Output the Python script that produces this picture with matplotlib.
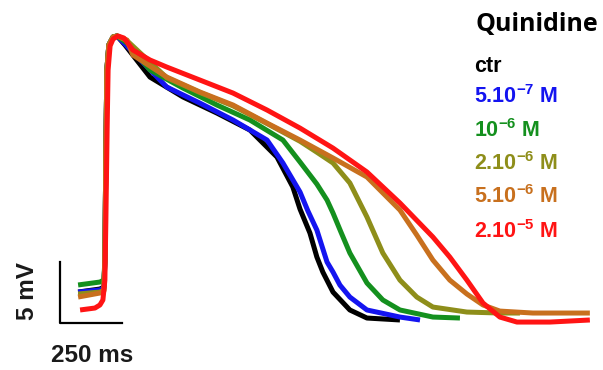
import matplotlib.pyplot as plt

# traces: time in ms, voltage in mV
labels = ['ctr', r'5.10$^{-7}$ M', r'10$^{-6}$ M', r'2.10$^{-6}$ M', r'5.10$^{-6}$ M', r'2.10$^{-5}$ M']
colors = ['#000000', '#1414f0', '#14901e', '#8e8e1a', '#c8701e', '#ff1414']

t_ctr = [73, 161, 177, 181, 185, 189, 197, 214, 230, 262, 363, 496, 633, 766, 875, 939, 968,
         1008, 1036, 1060, 1101, 1169, 1238, 1371]
v_ctr = [2.54, 2.79, 2.95, 5.17, 14.19, 20.75, 22.80, 23.45, 23.53, 22.79, 20.16, 18.53, 17.21,
         15.82, 13.61, 11.15, 9.34, 7.38, 5.41, 4.18, 2.54, 1.07, 0.41, 0.25]

t_q1 = [73, 161, 177, 181, 185, 189, 197, 214, 230, 262, 431, 564, 698, 835, 899, 968, 1000,
        1036, 1077, 1101, 1129, 1169, 1238, 1371, 1452]
v_q1 = [2.54, 2.71, 2.87, 5.17, 14.19, 20.75, 22.80, 23.45, 23.53, 22.87, 19.34, 18.03, 16.64,
        15.00, 13.12, 10.74, 9.18, 7.62, 5.00, 4.18, 3.11, 2.13, 1.07, 0.49, 0.25]

t_q2 = [73, 161, 177, 181, 185, 189, 197, 214, 230, 270, 363, 496, 633, 766, 899, 968, 1036,
        1077, 1101, 1133, 1169, 1238, 1302, 1371, 1504, 1613]
v_q2 = [3.12, 3.36, 3.53, 5.17, 14.19, 20.75, 22.80, 23.45, 23.53, 22.95, 20.74, 19.26, 17.87,
        16.64, 15.00, 13.20, 11.39, 10.08, 9.02, 7.46, 5.74, 3.28, 1.89, 1.07, 0.49, 0.41]

t_q3 = [73, 161, 177, 181, 185, 189, 197, 214, 230, 270, 431, 564, 698, 835, 968, 1036, 1101,
        1169, 1238, 1302, 1371, 1439, 1504, 1641, 1774, 1855]
v_q3 = [2.38, 2.54, 2.71, 5.17, 14.19, 20.75, 22.80, 23.45, 23.53, 23.15, 20.10, 18.90, 17.80,
        16.35, 14.90, 14.00, 13.12, 11.48, 8.69, 5.74, 3.52, 2.13, 1.31, 0.90, 0.82, 0.82]

t_q4 = [73, 161, 177, 181, 185, 189, 197, 214, 230, 270, 294, 431, 564, 698, 835, 968, 1101,
        1238, 1371, 1439, 1504, 1572, 1641, 1706, 1774, 1907, 2137]
v_q4 = [2.13, 2.46, 2.62, 5.17, 14.19, 20.75, 22.80, 23.45, 23.53, 23.20, 21.97, 20.16, 18.94,
        17.87, 16.39, 15.00, 13.53, 11.97, 9.26, 7.21, 5.16, 3.52, 2.38, 1.48, 0.98, 0.82, 0.82]

t_q5 = [81, 141, 161, 173, 181, 185, 190, 194, 202, 214, 234, 258, 294, 363, 431, 564, 698, 835,
        968, 1101, 1238, 1371, 1504, 1572, 1641, 1706, 1774, 1843, 1976, 2137]
v_q5 = [1.07, 1.23, 1.48, 1.89, 3.52, 8.44, 15.82, 20.74, 22.71, 23.28, 23.53, 23.36, 22.38,
        21.56, 20.98, 19.92, 18.85, 17.46, 15.98, 14.34, 12.38, 9.84, 7.05, 5.41, 3.52, 1.64,
        0.49, 0.08, 0.08, 0.25]

scale_ms = 250
scale_mv = 5

traces = [(t_ctr, v_ctr), (t_q1, v_q1), (t_q2, v_q2), (t_q3, v_q3), (t_q4, v_q4), (t_q5, v_q5)]

plt.rcParams['mathtext.fontset'] = 'custom'
plt.rcParams['mathtext.rm'] = 'Liberation Sans:bold'
plt.rcParams['mathtext.it'] = 'Liberation Sans:bold'
plt.rcParams['mathtext.bf'] = 'Liberation Sans:bold'

fig = plt.figure(figsize=(6.03, 3.70), dpi=100)
ax = fig.add_axes([0, 0, 1, 1])
ax.set_xlim(-242, 2190)
ax.set_ylim(-3.85, 26.48)
ax.axis('off')

for (t, v), c in zip(traces, colors):
    ax.plot(t, v, color=c, lw=3.6, solid_joinstyle='round', solid_capstyle='butt')

# scale bars
ax.plot([0, 0, scale_ms], [scale_mv, 0, 0], color='black', lw=1.6)
fig.text(0.046, 0.212, f'{scale_mv} mV', rotation=90, ha='center', va='center',
         fontsize=17.5, fontweight='bold', family='Liberation Sans', color='#1a1a1a')
fig.text(0.153, 0.04, f'{scale_ms} ms', ha='center', va='center',
         fontsize=17.5, fontweight='bold', family='Liberation Sans', color='#1a1a1a')

fig.text(0.789, 0.935, 'Quinidine', ha='left', va='center', fontsize=18,
         fontweight='bold', family='Open Sans')
baselines = [72, 103, 137, 170, 203, 238]
for lab, c, yb in zip(labels, colors, baselines):
    fig.text(0.786, 1 - yb / 370, lab, ha='left', va='baseline', fontsize=15.5,
             fontweight='bold', family='Liberation Sans', color=c)

fig.savefig('out.png', dpi=100)
plt.close(fig)
